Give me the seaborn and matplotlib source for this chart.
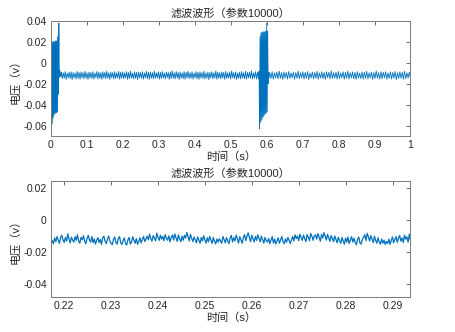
import numpy as np
import matplotlib
matplotlib.use("Agg")
import matplotlib.pyplot as plt
import seaborn as sns
from matplotlib.ticker import FormatStrFormatter

# values in units of 0.1 mV (multiply by 1e-4 to get volts)
burst1 = [150, -560, 190, -580, 200, -530, 205, -500, 200, -485, 210, -480, 205,
          -478, 215, -470, 250, -300, 380, -140, -70, -130, -105, -120]
band1 = [-88, -152, -95, -147, -84, -158, -99, -143, -90, -150, -86, -161, -93, -145, -97, -155, -82, -149, -91, -157,
         -87, -144, -94, -153, -80, -148, -96, -159, -89, -146, -92, -151, -85, -156, -98, -142, -83, -154, -90, -149,
         -94, -158, -86, -145, -91, -152, -79, -147, -97, -160, -88, -143, -93, -155, -85, -150, -96, -146, -81, -157,
         -90, -148, -87, -153, -95, -144, -84, -159, -92, -151, -78, -146, -99, -154, -86, -149, -91, -162, -89, -145,
         -93, -150, -85, -156, -97, -143, -82, -152, -90, -158, -88, -147, -94, -153, -80, -149, -96, -144, -87, -157,
         -91, -151, -84, -146, -98, -155, -89, -142, -93, -159, -86, -150, -77, -148, -95, -154, -83, -145, -92, -160,
         -88, -147, -96, -152, -85, -157, -90, -144, -81, -151, -94, -149, -87, -156, -99, -143, -84, -153, -91, -158,
         -86, -146, -93, -150, -80, -155, -97, -148, -89, -161, -92, -144, -85, -152, -95, -147, -78, -157, -90, -149,
         -94, -153, -87, -145, -91, -158, -83, -150, -96, -146, -88, -156, -79, -143, -93, -151, -86, -159, -98, -148,
         -90, -154, -84, -147, -95, -152, -81, -157, -92, -144, -89, -150, -76, -155, -97, -146, -85, -153, -91, -149]
burst2 = [-120, -80, -630, 250, -570, 285, -550, 295, -530, 290, -515, 300, -500,
          295, -488, 305, -480, 380, -470, 300, -200, -90, -140, -110]
band2 = [-92, -151, -85, -157, -96, -144, -88, -153, -80, -149, -94, -160, -87, -146, -91, -155, -83, -150, -97, -143,
         -89, -158, -93, -147, -79, -152, -95, -145, -86, -156, -90, -149, -84, -161, -98, -144, -88, -153, -92, -148,
         -81, -157, -96, -146, -87, -151, -93, -159, -85, -143, -90, -154, -77, -150, -94, -147, -89, -156, -83, -152,
         -97, -145, -86, -158, -91, -149, -80, -155, -95, -144, -88, -153, -92, -160, -84, -146, -99, -151, -87, -157,
         -90, -148, -82, -154, -96, -145, -89, -159, -93, -150, -78, -147, -94, -156, -86, -152, -91, -143, -85, -158,
         -97, -149, -88, -155, -92, -146, -83, -161, -95, -151, -87, -148, -90, -157, -81, -153, -96, -145, -89, -150]
segments_t = [(0.0, 0.028), (0.0285, 0.577), (0.5775, 0.608), (0.6085, 1.0)]

zoom_vals = [
    -145, -128, -150, -112, -136, -104, -126, -147, -110, -95, -124, -140, -109, -132, -86, -118, -143, -107, -125, -139,
    -104, -127, -92, -131, -146, -109, -123, -98, -133, -149, -116, -96, -125, -139, -103, -142, -118, -151, -127, -110,
    -141, -121, -153, -112, -102, -134, -148, -119, -100, -133, -147, -155, -121, -106, -140, -152, -115, -104, -142, -154,
    -127, -112, -149, -157, -124, -109, -151, -138, -105, -128, -146, -116, -153, -134, -111, -144, -122, -103, -135, -120,
    -101, -124, -88, -116, -132, -97, -114, -131, -82, -107, -128, -95, -120, -103, -130, -91, -113, -127, -99, -137,
    -109, -94, -126, -87, -112, -134, -93, -120, -136, -101, -127, -96, -113, -78, -105, -131, -90, -114, -135, -107,
    -123, -143, -106, -127, -146, -109, -131, -98, -124, -145, -111, -137, -103, -125, -147, -110, -133, -150, -119, -139,
    -117, -131, -146, -103, -124, -144, -110, -132, -148, -113, -97, -138, -111, -131, -94, -117, -145, -104, -125, -146,
    -110, -91, -129, -102, -80, -109, -136, -95, -116, -138, -103, -128, -92, -115, -137, -101, -124, -145, -109, -130,
    -138, -116, -148, -126, -104, -145, -119, -150, -132, -112, -146, -125, -103, -138, -149, -118, -139, -110, -126, -147,
    -124, -103, -132, -92, -116, -101, -130, -89, -109, -128, -94, -115, -136, -91, -108, -129, -84, -102, -127, -100,
    -93, -120, -85, -106, -133, -91, -113, -79, -100, -126, -90, -112, -134, -97, -114, -136, -100, -121, -143, -108,
    -130, -146, -110, -132, -152, -113, -139, -106, -148, -126, -104, -138, -114, -141, -155, -121, -107, -145, -151, -120,
    -109, -92, -129, -83, -106, -132, -98, -120, -142, -102, -128, -146, -111, -138, -152, -119, -145, -126, -154, -134,
    -147, -120, -153, -128, -106, -143, -121, -104, -140, -114, -97, -133, -112, -141, -94, -120, -105, -139, -88, -127]
zoom_range = (0.2172, 0.2937)

title = "滤波波形（参数10000）"
xlabel = "时间（s）"
ylabel = "电压（v）"

sns.set_theme(style="white")
plt.rcParams["font.family"] = ["Liberation Sans", "Noto Sans CJK SC", "DejaVu Sans"]
plt.rcParams["axes.unicode_minus"] = False

t_full = np.concatenate([np.linspace(a, b, len(v)) for (a, b), v in
                         zip(segments_t, [burst1, band1, burst2, band2])])
v_full = np.concatenate([burst1, band1, burst2, band2]) * 1e-4
t_zoom = np.linspace(zoom_range[0], zoom_range[1], len(zoom_vals))
v_zoom = np.array(zoom_vals) * 1e-4

color = "#0072BD"
fig = plt.figure(figsize=(4.56, 3.32), dpi=100)
ax1 = fig.add_axes([0.1118, 0.5904, 0.7884, 0.3464])
ax2 = fig.add_axes([0.1118, 0.1054, 0.7884, 0.3485])

sns.lineplot(x=t_full, y=v_full, ax=ax1, color=color, linewidth=0.6,
             estimator=None, sort=False, errorbar=None)
sns.lineplot(x=t_zoom, y=v_zoom, ax=ax2, color=color, linewidth=0.9,
             estimator=None, sort=False, errorbar=None)

ax1.set_xlim(0, 1)
ax1.set_ylim(-0.07, 0.04)
ax1.set_xticks(np.arange(0, 1.01, 0.1))
ax1.set_yticks([-0.06, -0.04, -0.02, 0, 0.02, 0.04])
ax2.set_xlim(*zoom_range)
ax2.set_ylim(-0.0485, 0.0245)
ax2.set_xticks([0.22, 0.23, 0.24, 0.25, 0.26, 0.27, 0.28, 0.29])
ax2.set_yticks([-0.04, -0.02, 0, 0.02])

for ax in (ax1, ax2):
    ax.xaxis.set_major_formatter(FormatStrFormatter("%g"))
    ax.yaxis.set_major_formatter(FormatStrFormatter("%g"))
    ax.tick_params(direction="in", length=3, width=0.6, top=True, right=True,
                   labelsize=7.5, colors="#555555", labelcolor="#262626", pad=3)
    for s in ax.spines.values():
        s.set_color("#7a7a7a")
        s.set_linewidth(0.7)
    ax.set_title(title, fontsize=8, color="#262626", pad=3)
    ax.set_xlabel(xlabel, fontsize=8, color="#262626", labelpad=1)
    ax.set_ylabel(ylabel, fontsize=8, color="#262626", labelpad=2)

fig.savefig("out.png", dpi=100, facecolor="white")
